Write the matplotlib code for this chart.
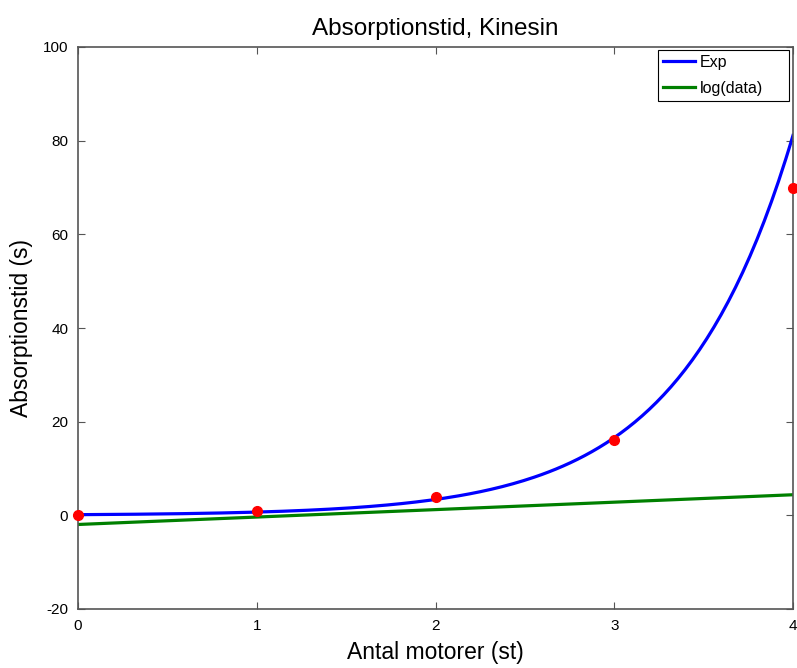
import numpy as np
import matplotlib
matplotlib.use("Agg")
import matplotlib.pyplot as plt

plt.rcParams['font.family'] = ['Liberation Sans', 'DejaVu Sans']
plt.rcParams['axes.unicode_minus'] = False

# measured absorption times
motors = np.array([0, 1, 2, 3, 4])
abs_time = np.array([0.1, 1.0, 4.0, 16.0, 70.0])

# linear fit of log(data) -> exponential model
slope, icept = np.polyfit(motors, np.log(abs_time), 1)
xfit = np.linspace(0, 4, 200)
exp_fit = np.exp(icept + slope * xfit)
log_fit = icept + slope * xfit

fig = plt.figure(figsize=(7.97, 6.68), dpi=100)
ax = fig.add_axes([78 / 797, 1 - 609 / 668, 715 / 797, 562 / 668])

ax.plot(xfit, exp_fit, color='#0000ff', lw=2.3, label='Exp')
ax.plot(xfit, log_fit, color='#008000', lw=2.3, label='log(data)')
ax.plot(motors, abs_time, 'o', color='#ff0000', ms=7, clip_on=False, zorder=5)

ax.set_xlim(0, 4)
ax.set_ylim(-20, 100)
ax.set_xticks([0, 1, 2, 3, 4])
ax.set_yticks([-20, 0, 20, 40, 60, 80, 100])
ax.tick_params(direction='in', top=True, right=True, length=5,
               labelsize=11, color='#555555', pad=7)
for s in ax.spines.values():
    s.set_color('#555555')
    s.set_linewidth(1.2)

ax.set_xlabel('Antal motorer (st)', fontsize=16.5, labelpad=6)
ax.set_ylabel('Absorptionstid (s)', fontsize=16.5, labelpad=7)
ax.set_title('Absorptionstid, Kinesin', fontsize=17.5, pad=9)

leg = ax.legend(loc='upper right', bbox_to_anchor=(0.811, 0.5, 0.1834, 0.4947),
                mode='expand', fontsize=11.5, fancybox=False,
                handlelength=2.0, handletextpad=0.35, labelspacing=0.7,
                borderaxespad=0.0, borderpad=0.3, framealpha=1)
leg.get_frame().set_edgecolor('black')
leg.get_frame().set_linewidth(0.8)

fig.savefig('out.png', dpi=100)
